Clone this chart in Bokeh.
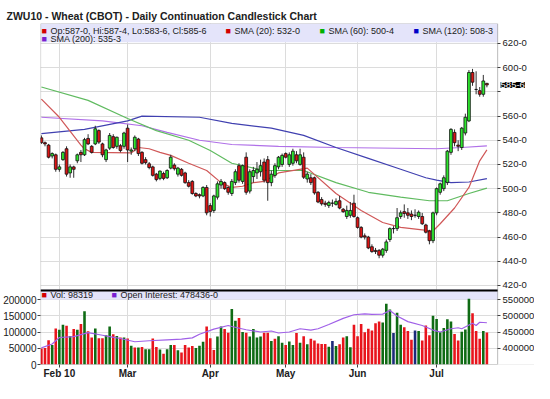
from bokeh.plotting import figure
from bokeh.models import (Range1d, LinearAxis, FixedTicker, Grid, BoxAnnotation,
                          Label, ColumnDataSource)
from bokeh.embed import file_html
from bokeh.resources import INLINE

# ---------------- data ----------------
month_ticks = [5, 24, 47, 68, 88, 110]
month_labels = ["Feb 10", "Mar", "Apr", "May", "Jun", "Jul"]

opens = [542, 538, 536, 527, 528, 516, 524, 533, 513, 518,
         523, 530, 528, 541.5, 535, 537, 548, 537, 524, 533.5,
         543, 535, 535.5, 535, 550, 531, 533, 541, 530, 524,
         520.5, 518, 512, 508.5, 512.5, 509, 517, 519.5, 512, 516,
         513, 505, 506, 496, 495, 494, 501, 486, 482, 493,
         503, 505, 501, 496, 505, 519, 506, 526, 498, 510,
         513, 514, 522, 524, 505, 511, 518, 520, 529, 520,
         521, 528, 520, 526, 508, 509, 509, 497, 491, 488,
         486, 488, 487, 490, 483, 477, 478, 488, 476, 468,
         461, 460, 452, 449, 449, 445, 449, 458, 467, 467,
         477, 481, 480, 479, 478, 477, 477, 470, 465, 457,
         480, 497, 500, 505, 530, 546.5, 536, 534, 546, 556,
         596, 582, 581, 578, 587]
highs = [544, 539, 537, 530, 529, 520, 531, 535, 520, 519,
         529, 532, 542, 545, 536, 552, 549, 538, 533, 546,
         545, 543, 537, 547, 553, 534, 544, 542, 531, 526,
         522, 519, 513, 515, 514, 516, 528, 521, 518, 517,
         514, 507, 507, 497, 496, 502, 503, 488, 495, 506,
         508, 506, 502, 508, 516, 521, 520, 530, 516, 518,
         522, 524, 525, 527, 515, 521, 527, 529, 530, 530,
         533, 531, 533, 530, 514, 512, 510, 498, 493, 490,
         490, 491, 492, 494, 484, 486, 489, 495, 477, 469,
         463, 461, 454, 451, 450, 451, 458, 468, 469, 484,
         482, 487, 484, 482, 483, 482, 480, 471, 466, 481,
         501, 505, 511, 532, 550, 549, 540, 551, 562, 598,
         599, 597, 584, 594, 587.5]
lows = [537, 535, 525, 525, 514, 514, 523, 510, 509, 509,
        521, 522, 527, 536, 529, 536, 537, 526, 522, 532,
        533, 533, 530, 533, 522, 528, 531, 527, 520, 520,
        516, 510, 506, 507, 507, 508, 516, 515, 510, 510,
        504, 501, 495, 493, 492, 493, 478, 477, 480, 491,
        500, 499, 495, 494, 503, 505, 504, 495, 496, 505,
        508, 510, 505, 490, 502, 509, 516, 518, 525, 518,
        519, 521, 519, 508, 505, 503, 495, 488, 486, 485,
        484, 485, 486, 483, 480, 475, 476, 476, 467, 459,
        458, 450, 447, 446, 442.5, 443, 447, 456, 463, 465,
        475, 476, 475, 474, 476, 475, 470, 463, 454, 455,
        478, 495, 498, 503, 528, 535, 531, 532, 544, 555,
        585, 578, 576, 576, 583.75]
closes = [538, 537, 526, 529, 516, 518, 530, 512, 518, 516,
          528, 528, 540.5, 537, 530, 549.5, 538.5, 528, 532, 544,
          534, 542.5, 531.5, 546, 532, 532, 542.5, 529, 521, 521.5,
          517.5, 511, 507.5, 514.5, 508.5, 515, 526, 516.5, 517, 511,
          505, 502, 496, 494, 494, 501, 480, 481, 494, 504,
          506, 500, 497, 506, 514, 507, 519, 497, 514, 515,
          516, 519, 507, 505, 512, 519, 526, 527.5, 526, 528,
          531, 523, 528, 509.5, 512, 505, 496.5, 489, 487.5, 487,
          488.5, 488, 489.5, 484, 481, 482, 482, 477, 468, 460,
          460, 451, 448, 448, 445, 450, 456, 467, 467, 476,
          480, 479.5, 478, 477, 478, 480.5, 471, 464, 457, 480,
          500, 504, 509, 531, 549, 538, 535, 550, 559, 596,
          588, 582, 578, 589, 585.75]

volume = [49000, 51000, 75000, 60000, 111000, 107000, 122000, 119000, 88000, 109000,
          107000, 125000, 164000, 102000, 83000, 111000, 81000, 81000, 90000, 117000,
          93000, 88000, 83000, 83000, 80000, 58000, 52000, 52000, 54000, 47000,
          47000, 80000, 54000, 46000, 33000, 47000, 60000, 60000, 44000, 37000,
          60000, 52000, 57000, 51000, 58000, 70000, 117000, 81000, 45000, 86000,
          117000, 109000, 98000, 171000, 135000, 143000, 100000, 98000, 86000, 109000,
          83000, 86000, 98000, 98000, 72000, 79000, 87000, 67000, 60000, 71000,
          60000, 97000, 67000, 87000, 62000, 79000, 74000, 65000, 63000, 63000,
          55000, 72000, 57000, 62000, 83000, 87000, 53000, 122000, 87000, 125000,
          99000, 110000, 105000, 127000, 132000, 129000, 187000, 169000, 97000, 159000,
          122000, 115000, 103000, 76000, 105000, 103000, 74000, 120000, 90000, 150000,
          140000, 99000, 112000, 139000, 132000, 94000, 74000, 101000, 108000, 202000,
          158000, 103000, 79000, 103000, 98319]
volume_dir = list("rrrgrggrgr" "grgrrgrrgg" "rgrgrgrgrg" "grrgrggrgr" "rrrgggrrrg"
                  "grrggrgrgg" "ggrrgrggrg" "grgrgrrrrr" "gngrrggrrr" "rrrrrgggng"
                  "grrrngrrrg" "gggggrrggg" "rrrgr")

oi_x = [0, 3, 5, 9, 13, 17, 19, 22, 26, 30, 35, 39, 42, 44, 48, 52, 53, 57, 61, 64,
        66, 69, 72, 75, 77, 80, 84, 87, 90, 92, 95, 97, 99, 102, 106, 109, 111, 114,
        116, 117, 120, 121, 122, 124]
oi_y = [401000, 413000, 433000, 436000, 448000, 440000, 436000, 430000, 420000, 423000,
        426000, 428000, 432000, 443000, 459000, 470000, 467000, 457000, 450000, 453000,
        447000, 450000, 460000, 456000, 460000, 473000, 492000, 503000, 506000, 504000,
        505000, 516000, 499000, 482000, 470000, 456000, 450000, 460000, 463000, 460000,
        477000, 470000, 480000, 478436]

sma20_x = [0, 5, 11, 12, 14, 25, 27, 30, 33, 36, 41, 46, 50, 53, 56, 59, 62, 66, 74,
           82, 89, 95, 100, 106, 109, 111, 115, 119, 122, 124]
sma20_y = [574, 559, 536, 533, 530, 529.5, 534, 533, 530, 527.5, 521, 515, 505, 501, 502,
           505, 506, 513, 517, 496, 482, 472, 468, 466, 465, 471, 484, 501, 523, 532]
sma60_x = [0, 13, 24, 32, 41, 47, 53, 62, 73, 82, 91, 100, 108, 113, 119, 124]
sma60_y = [584, 573, 558, 548, 540, 531.5, 521, 515, 515, 505, 497, 493, 490, 490, 496, 500.5]
sma120_x = [0, 12, 24, 28, 44, 53, 64, 73, 82, 91, 100, 107, 110, 114, 119, 124]
sma120_y = [545.5, 549, 556, 560, 559, 554, 550, 544, 534, 525, 516, 509, 507, 505, 505.5, 508.3]
sma200_x = [0, 17, 28, 35, 44, 53, 66, 82, 110, 117, 124]
sma200_y = [559, 556, 552, 546.5, 540, 536.5, 535, 534, 533, 534, 535.3]

price_ticks = [420, 440, 460, 480, 500, 520, 540, 560, 580, 600, 620]
vol_ticks = [0, 50000, 100000, 150000, 200000]
oi_ticks = [350000, 400000, 450000, 500000, 550000]

title_text = "ZWU10 - Wheat (CBOT) - Daily Continuation Candlestick Chart"
price_legend = [("Op:587-0, Hi:587-4, Lo:583-6, Cl:585-6", "#d40000"),
                ("SMA (20): 532-0", "#d40000"),
                ("SMA (60): 500-4", "#00b000"),
                ("SMA (120): 508-3", "#0000c8"),
                ("SMA (200): 535-3", "#7a1fd0")]
vol_legend = [("Vol: 98319", "#d40000"), ("Open Interest: 478436-0", "#7a1fd0")]
last_price_text = "585-6"
last_close = closes[-1]

# ---------------- layout geometry ----------------
W, H = 534, 383
left_b, right_b, top_b, bottom_b = 39, 0, 23, 19
axis_area_px = 37                      # room for the right-hand labels, kept inside the frame
frame_w = W - left_b - right_b
frame_h = H - top_b - bottom_b
px_per_day = 3.6
px_per_price = 1.21
price_top = 636.5
price_panel_px = 266
price_bottom = price_top - frame_h / px_per_price
vol_panel_px = frame_h - price_panel_px
vol_band_px = 10
vol_per_px = 200000 / (vol_panel_px - vol_band_px)
vol_end = frame_h * vol_per_px
oi_start = 350000
oi_end = oi_start + vol_end
x_start = -0.25
x_end = x_start + frame_w / px_per_day
x_edge = x_start + (frame_w - axis_area_px) / px_per_day   # right edge of the chart box
sep_price = price_top - price_panel_px / px_per_price

p = figure(width=W, height=H, x_range=Range1d(x_start, x_end),
           y_range=Range1d(price_bottom, price_top),
           output_backend="svg", toolbar_location=None,
           x_axis_location=None, y_axis_location=None,
           min_border_left=left_b, min_border_right=right_b,
           min_border_top=top_b, min_border_bottom=bottom_b)
p.extra_y_ranges = {"vol": Range1d(0, vol_end), "oi": Range1d(oi_start, oi_end)}
p.background_fill_color = "white"
p.border_fill_color = "white"
p.outline_line_color = None
p.xgrid.visible = False
p.ygrid.visible = False

FONT = "Liberation Sans"

p.title.text = title_text
p.title.align = "left"
p.title.offset = -(left_b - 5)
p.title.standoff = 4
p.title.text_font = FONT
p.title.text_font_size = "10.5px"
p.title.text_font_style = "bold"
p.title.text_color = "#202020"

# axes
xax = LinearAxis(ticker=FixedTicker(ticks=month_ticks),
                 major_label_overrides={t: l for t, l in zip(month_ticks, month_labels)})
p.add_layout(xax, "below")


def oi_to_price(v):
    return round(price_bottom + (v - oi_start) / (oi_end - oi_start) * (price_top - price_bottom), 6)


oi_pos = [oi_to_price(v) for v in oi_ticks]
r_over = {t: ("" if t == 580 else f"{t}-0") for t in price_ticks}
for pos, v in zip(oi_pos, oi_ticks):
    r_over[pos] = str(v)
rax = LinearAxis(ticker=FixedTicker(ticks=price_ticks + oi_pos), major_label_overrides=r_over,
                 fixed_location=x_edge)
p.add_layout(rax, "right")

lax = LinearAxis(y_range_name="vol", ticker=FixedTicker(ticks=vol_ticks),
                 major_label_overrides={v: str(v) for v in vol_ticks})
p.add_layout(lax, "left")

for ax in (xax, rax, lax):
    ax.axis_line_color = None
    ax.major_tick_line_color = "#404040"
    ax.major_tick_in = 0
    ax.major_tick_out = 3
    ax.minor_tick_line_color = None
    ax.major_label_text_font = FONT
    ax.major_label_text_color = "#202020"
xax.major_label_text_font_size = "10px"
xax.major_label_text_font_style = "bold"
xax.major_label_standoff = 0
rax.major_label_text_font_size = "9.5px"
rax.major_label_standoff = 2
lax.major_label_text_font_size = "10px"
lax.major_label_standoff = 1

p.add_layout(Grid(dimension=0, ticker=xax.ticker, grid_line_color="#dcdcdc"))
p.add_layout(Grid(dimension=1, ticker=rax.ticker, grid_line_color="#dcdcdc"))
# blank the label area to the right of the chart box
p.add_layout(BoxAnnotation(left=x_edge, fill_color="white", fill_alpha=1.0,
                           line_color=None, level="underlay"))

# legend bands
p.add_layout(BoxAnnotation(bottom=621.0, right=x_edge, fill_color="#e4e4fa", fill_alpha=1.0,
                           line_color=None, level="underlay"))
p.add_layout(BoxAnnotation(y_range_name="vol", right=x_edge,
                           bottom=(vol_panel_px - vol_band_px) * vol_per_px,
                           top=vol_panel_px * vol_per_px, fill_color="#e4e4fa",
                           fill_alpha=1.0, line_color=None, level="underlay"))

# volume bars
vol_color_map = {"r": "#e8141c", "g": "#0f6b14", "n": "#1c2a7a"}
idx = list(range(len(closes)))
vsrc = ColumnDataSource(dict(x=idx, top=volume, color=[vol_color_map[d] for d in volume_dir]))
p.vbar(x="x", top="top", bottom=0, width=0.72, source=vsrc, y_range_name="vol",
       fill_color="color", line_color=None)
p.line(oi_x, oi_y, y_range_name="oi", line_color="#a060e8", line_width=1.2)

# SMA lines
p.line(sma200_x, sma200_y, line_color="#b070e8", line_width=1.2)
p.line(sma120_x, sma120_y, line_color="#4040b0", line_width=1.2)
p.line(sma60_x, sma60_y, line_color="#60bb60", line_width=1.2)
p.line(sma20_x, sma20_y, line_color="#d05858", line_width=1.2)

# candles
csrc = ColumnDataSource(dict(
    x=idx, high=highs, low=lows,
    top=[max(o, c) for o, c in zip(opens, closes)],
    bottom=[min(o, c) for o, c in zip(opens, closes)],
    color=["#2ee62e" if c >= o else "#dc1414" for o, c in zip(opens, closes)]))
p.segment(x0="x", y0="high", x1="x", y1="low", source=csrc, line_color="#303030", line_width=1)
p.vbar(x="x", top="top", bottom="bottom", width=0.78, source=csrc,
       fill_color="color", line_color="#101010", line_width=0.8)

# chart box outline and panel separator
p.add_layout(BoxAnnotation(left=x_start, right=x_edge, fill_alpha=0.0,
                           line_color="#404040", line_width=1.2))
p.add_layout(BoxAnnotation(right=x_edge, top=sep_price, bottom=sep_price - 2 / px_per_price,
                           fill_color="black", fill_alpha=1.0, line_color=None))

# legends (screen units relative to frame)
leg_x = [1, 185, 279, 373]
for (txt, col), lx in zip(price_legend[:4], leg_x):
    p.add_layout(Label(x=lx, y=frame_h - 7, x_units="screen", y_units="screen", text="\u25a0",
                       text_color=col, text_font_size="9px", text_baseline="middle"))
    p.add_layout(Label(x=lx + 9, y=frame_h - 7, x_units="screen", y_units="screen", text=txt,
                       text_color="#202020", text_font=FONT, text_font_size="9px",
                       text_baseline="middle"))
txt, col = price_legend[4]
p.add_layout(Label(x=1, y=frame_h - 15, x_units="screen", y_units="screen", text="\u25a0",
                   text_color=col, text_font_size="9px", text_baseline="middle"))
p.add_layout(Label(x=10, y=frame_h - 15, x_units="screen", y_units="screen", text=txt,
                   text_color="#202020", text_font=FONT, text_font_size="9px",
                   text_baseline="middle"))
for (txt, col), lx in zip(vol_legend, [1, 71]):
    p.add_layout(Label(x=lx, y=vol_panel_px - 5, x_units="screen", y_units="screen", text="\u25a0",
                       text_color=col, text_font_size="9px", text_baseline="middle"))
    p.add_layout(Label(x=lx + 9, y=vol_panel_px - 5, x_units="screen", y_units="screen", text=txt,
                       text_color="#202020", text_font=FONT, text_font_size="9px",
                       text_baseline="middle"))

# last price marker on the right-hand scale
p.add_layout(Label(x=x_edge, y=last_close, x_offset=3, text=last_price_text,
                   text_color="white", background_fill_color="black",
                   text_font=FONT, text_font_size="9.5px", text_baseline="middle"))

open("out.html", "w").write(file_html(p, INLINE))
